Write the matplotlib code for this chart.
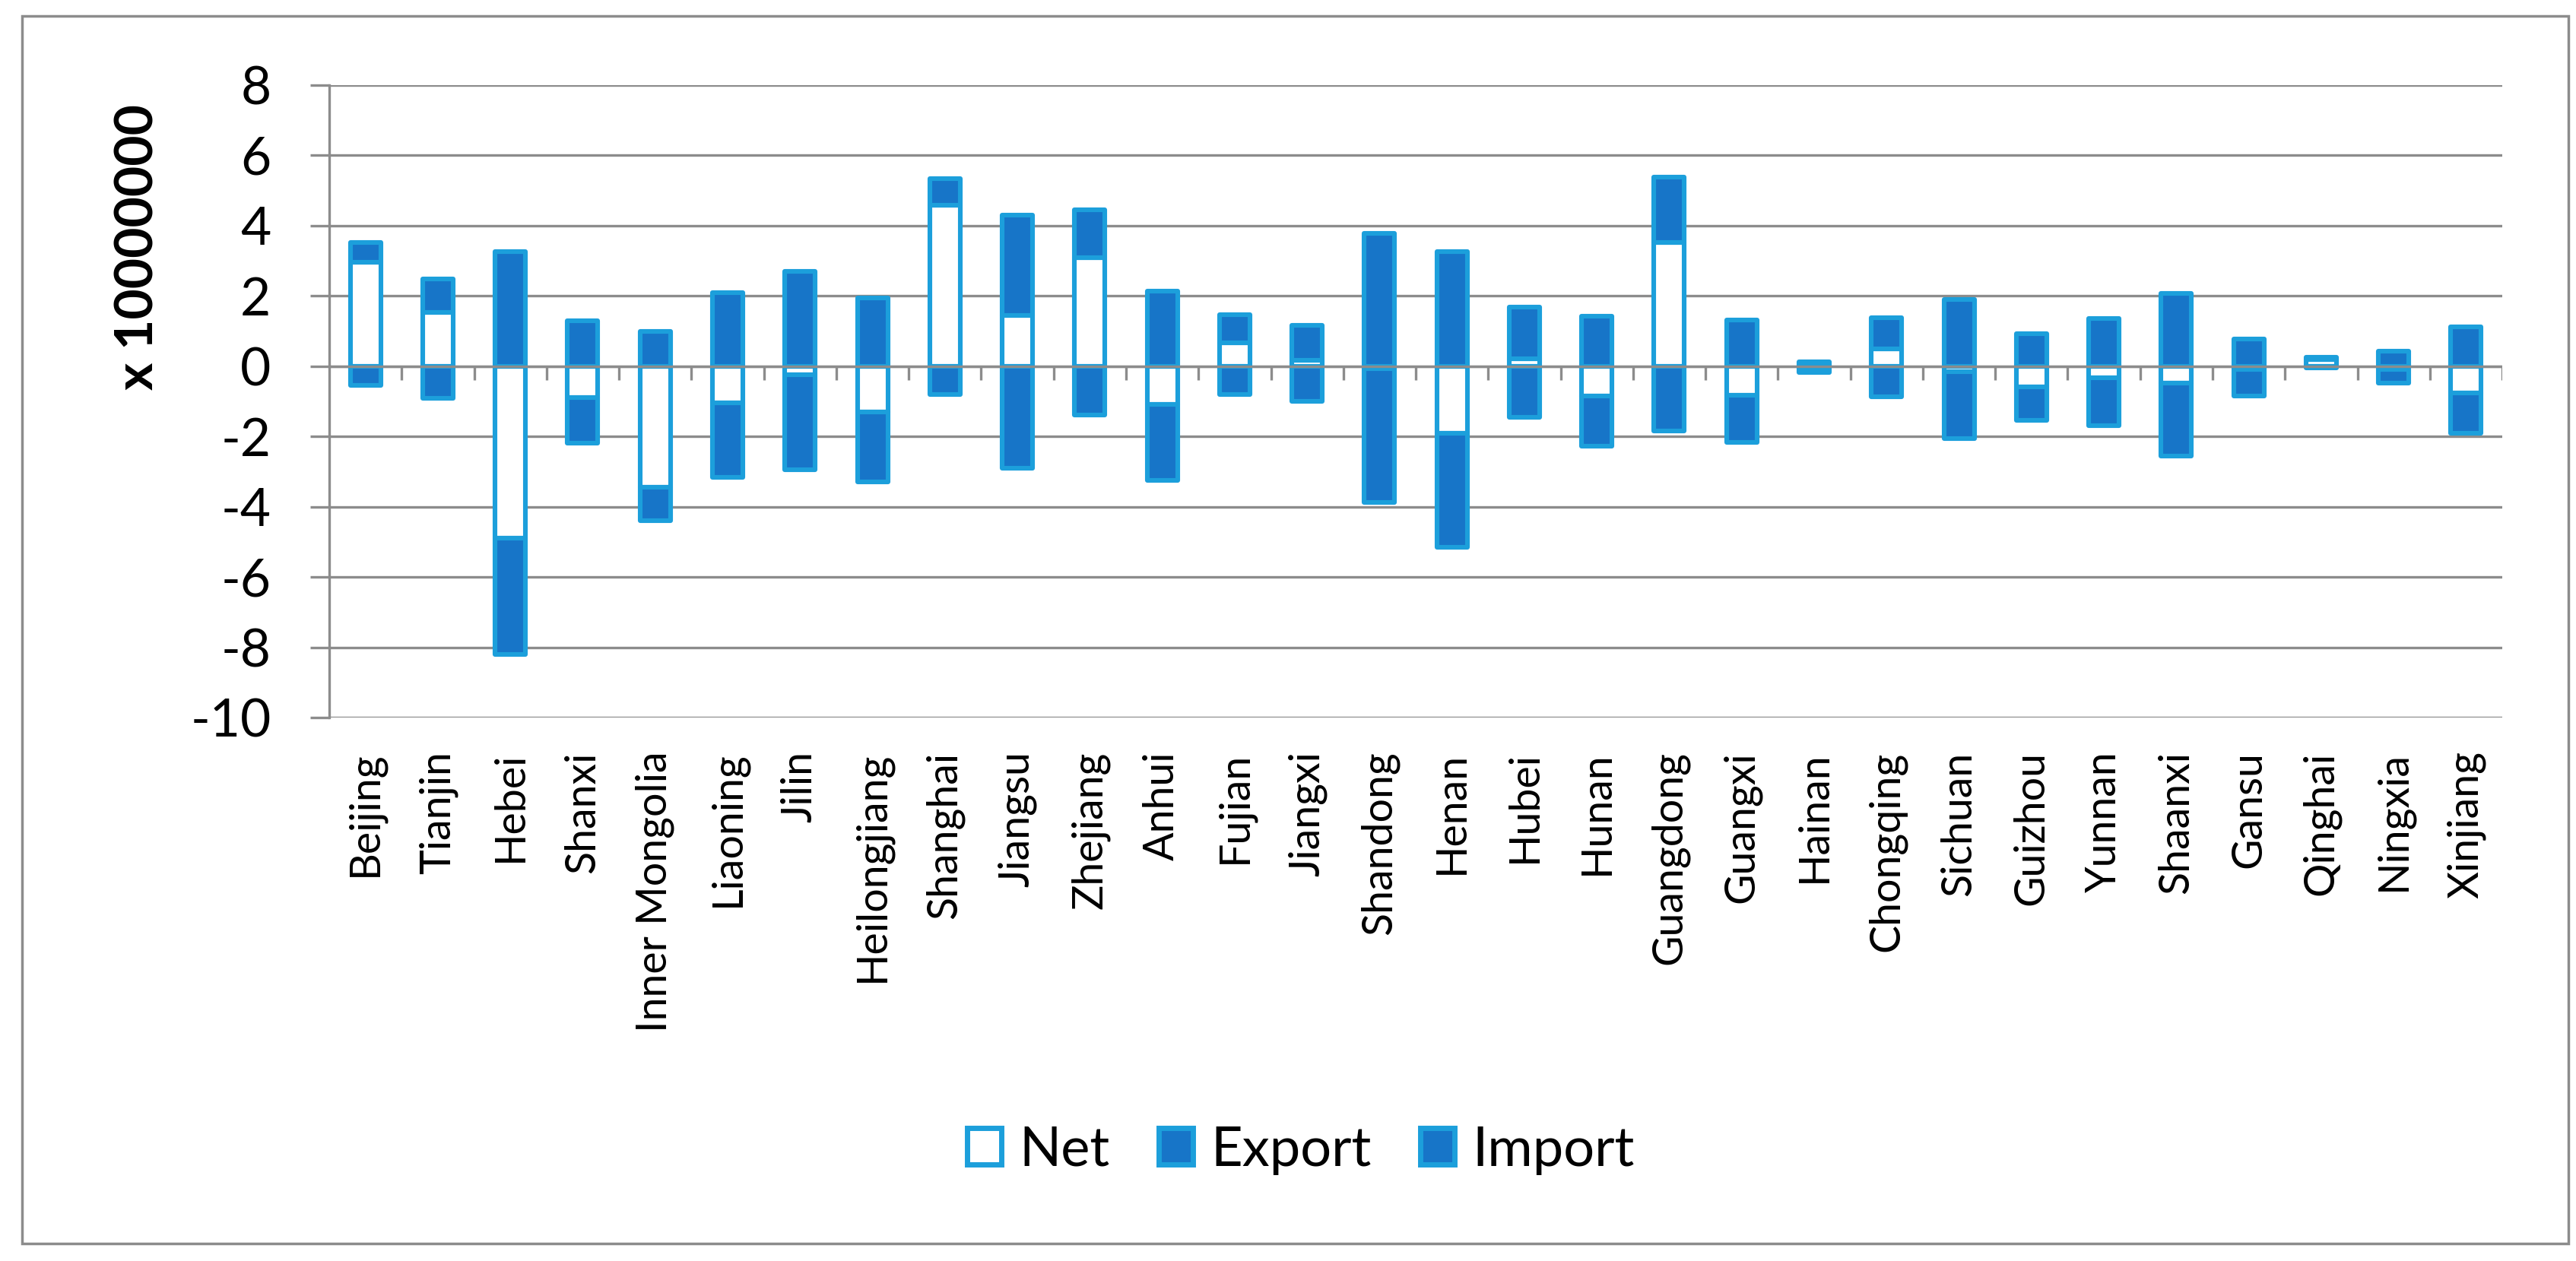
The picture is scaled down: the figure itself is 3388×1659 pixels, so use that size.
import numpy as np
import matplotlib
matplotlib.use("Agg")
import matplotlib.pyplot as plt
from matplotlib.patches import Rectangle, Patch

provinces = ["Beijing", "Tianjin", "Hebei", "Shanxi", "Inner Mongolia", "Liaoning",
             "Jilin", "Heilongjiang", "Shanghai", "Jiangsu", "Zhejiang", "Anhui",
             "Fujian", "Jiangxi", "Shandong", "Henan", "Hubei", "Hunan", "Guangdong",
             "Guangxi", "Hainan", "Chongqing", "Sichuan", "Guizhou", "Yunnan",
             "Shaanxi", "Gansu", "Qinghai", "Ningxia", "Xinjiang"]

export_vals = [3.53, 2.48, 3.26, 1.29, 0.99, 2.09, 2.70, 1.95, 5.34, 4.29, 4.45, 2.13,
               1.47, 1.16, 3.79, 3.26, 1.68, 1.42, 5.38, 1.32, 0.12, 1.38, 1.89, 0.93,
               1.35, 2.07, 0.77, 0.26, 0.42, 1.13]
import_vals = [-0.55, -0.91, -8.20, -2.20, -4.40, -3.16, -2.94, -3.30, -0.81, -2.90, -1.40, -3.26,
               -0.81, -0.99, -3.87, -5.16, -1.46, -2.28, -1.85, -2.17, -0.18, -0.88, -2.07, -1.55,
               -1.70, -2.55, -0.84, -0.04, -0.48, -1.91]
net_vals = [2.95, 1.54, -4.90, -0.89, -3.44, -1.05, -0.25, -1.30, 4.58, 1.45, 3.08, -1.08,
            0.67, 0.17, -0.08, -1.90, 0.22, -0.84, 3.53, -0.83, -0.06, 0.49, -0.16, -0.60,
            -0.34, -0.48, -0.10, 0.20, -0.09, -0.77]

yticks = list(range(-10, 9, 2))

DARK = "#1775C8"
EDGE = "#1C9FDB"
GRAY = "#8C8C8C"
FONT = "Lato"

fig = plt.figure(figsize=(33.88, 16.59), dpi=100)
ax = fig.add_axes([0.1278, 0.4310, 0.8436, 0.5015])

x = np.arange(len(provinces))
net = np.array(net_vals)
exp_ = np.array(export_vals)
imp_ = np.array(import_vals)
pos_base = np.maximum(net, 0)
neg_base = np.minimum(net, 0)

w = 0.42
lw = 4.4
ax.bar(x, net, width=w, color="white", edgecolor=EDGE, linewidth=lw, zorder=2, joinstyle="round")
ax.bar(x, exp_ - pos_base, bottom=pos_base, width=w, color=DARK, edgecolor=EDGE,
       linewidth=lw, zorder=2, joinstyle="round")
ax.bar(x, imp_ - neg_base, bottom=neg_base, width=w, color=DARK, edgecolor=EDGE,
       linewidth=lw, zorder=2, joinstyle="round")

ax.set_xlim(-0.5, len(provinces) - 0.5)
ax.set_ylim(-10, 8)
ax.set_yticks(yticks)
ax.set_yticklabels([str(v) for v in yticks], fontsize=50, family=FONT)
ax.yaxis.grid(True, color=GRAY, linewidth=2.4, zorder=0)
ax.set_axisbelow(True)
ax.tick_params(axis="y", length=18, width=2.4, color=GRAY, pad=37)

ax.set_xticks(x)
ax.set_xticklabels(provinces, rotation=90, fontsize=40, family=FONT)
ax.tick_params(axis="x", length=0, pad=32)

for s in ["top", "right", "bottom"]:
    ax.spines[s].set_visible(False)
ax.spines["left"].set_color(GRAY)
ax.spines["left"].set_linewidth(2.4)

# zero axis line with category boundary ticks
ax.axhline(0, color=GRAY, linewidth=2.4, zorder=3)
ax.vlines(np.arange(0.5, len(provinces), 1), -0.39, 0, color=GRAY, linewidth=2.4, zorder=3)

fig.text(182 / 3388, 1 - 325 / 1659, "x 10000000", rotation=90, fontsize=50,
         fontweight="bold", family=FONT, ha="center", va="center")

handles = [Patch(facecolor="white", edgecolor=EDGE, linewidth=5),
           Patch(facecolor=DARK, edgecolor=EDGE, linewidth=5),
           Patch(facecolor=DARK, edgecolor=EDGE, linewidth=5)]
fig.legend(handles, ["Net", "Export", "Import"], loc="center", bbox_to_anchor=(0.505, 0.088),
           ncol=3, frameon=False, prop={"family": FONT, "size": 52},
           handlelength=0.62, handleheight=0.66, handletextpad=0.32, columnspacing=0.9)

fig.add_artist(Rectangle((0.0086, 0.0139), 0.9884, 0.9734, transform=fig.transFigure,
                         fill=False, edgecolor=GRAY, linewidth=2.5))

fig.savefig("out.png", dpi=100)
